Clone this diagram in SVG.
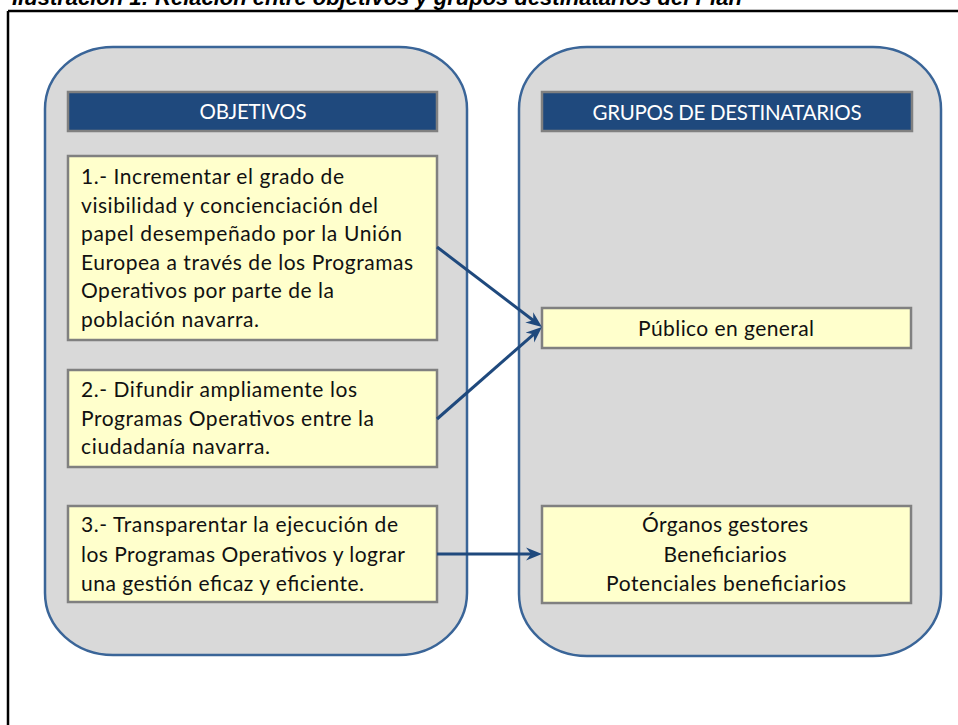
<svg xmlns="http://www.w3.org/2000/svg" width="958" height="725" viewBox="0 0 958 725">
<defs>
<style>
.title{font-family:"Liberation Sans",Arial,sans-serif;font-size:22px;font-weight:bold;font-style:italic;fill:#000}
.container{fill:#D9D9D9;stroke:#3A6598;stroke-width:2.5}
.header{fill:#1F497D;stroke:#808080;stroke-width:2.5}
.box{fill:#FFFFCC;stroke:#808080;stroke-width:2.5}
.ht{font-family:Lato,"Open Sans",sans-serif;font-size:20.5px;fill:#FFFFFF;text-anchor:middle}
.t{font-family:Lato,"Open Sans",sans-serif;font-size:21px;fill:#111111}
.tc{font-family:Lato,"Open Sans",sans-serif;font-size:21px;fill:#111111;text-anchor:middle}
.conn{fill:none;stroke:#1F497D;stroke-width:3}
</style>
<marker id="arrow" markerUnits="userSpaceOnUse" markerWidth="16" markerHeight="14" viewBox="0 0 16 14" refX="11" refY="7" orient="auto">
<path d="M0,0.5 L16,7 L0,13.5 L5,7 Z" fill="#1F497D"/>
</marker>
</defs>
<rect width="958" height="725" fill="#FFFFFF"/>
<text class="title" x="12" y="5">Ilustración 1: Relación entre objetivos y grupos destinatarios del Plan</text>
<path d="M8,11 H958 M8,11 V725" fill="none" stroke="#000" stroke-width="2.5"/>

<g id="objetivos-panel">
<rect class="container" x="45" y="47" width="422" height="608" rx="68" ry="62"/>
</g>
<g id="destinatarios-panel">
<rect class="container" x="519" y="47" width="422" height="609" rx="68" ry="62"/>
</g>

<g id="header-objetivos">
<rect class="header" x="68" y="92" width="369" height="39"/>
<text class="ht" x="253" y="119" textLength="107" lengthAdjust="spacing">OBJETIVOS</text>
</g>
<g id="header-destinatarios">
<rect class="header" x="542" y="92" width="370" height="39"/>
<text class="ht" x="727" y="119.5" textLength="269" lengthAdjust="spacing">GRUPOS DE DESTINATARIOS</text>
</g>

<g id="objetivo-1">
<rect class="box" x="68" y="156" width="369" height="184"/>
<text class="t" x="81" y="184" textLength="263" lengthAdjust="spacing">1.- Incrementar el grado de</text>
<text class="t" x="81" y="212.5" textLength="297" lengthAdjust="spacing">visibilidad y concienciación del</text>
<text class="t" x="81" y="241" textLength="321" lengthAdjust="spacing">papel desempeñado por la Unión</text>
<text class="t" x="81" y="269.5" textLength="332" lengthAdjust="spacing">Europea a través de los Programas</text>
<text class="t" x="81" y="298" textLength="253" lengthAdjust="spacing">Operativos por parte de la</text>
<text class="t" x="81" y="326.5" textLength="178" lengthAdjust="spacing">población navarra.</text>
</g>

<g id="objetivo-2">
<rect class="box" x="68" y="370" width="369" height="97"/>
<text class="t" x="81" y="397" textLength="276" lengthAdjust="spacing">2.- Difundir ampliamente los</text>
<text class="t" x="81" y="425.5" textLength="293" lengthAdjust="spacing">Programas Operativos entre la</text>
<text class="t" x="81" y="454" textLength="189" lengthAdjust="spacing">ciudadanía navarra.</text>
</g>

<g id="objetivo-3">
<rect class="box" x="68" y="506" width="369" height="96"/>
<text class="t" x="81" y="532" textLength="317" lengthAdjust="spacing">3.- Transparentar la ejecución de</text>
<text class="t" x="81" y="561.5" textLength="324" lengthAdjust="spacing">los Programas Operativos y lograr</text>
<text class="t" x="81" y="590.5" textLength="283" lengthAdjust="spacing">una gestión eficaz y eficiente.</text>
</g>

<g id="publico-general">
<rect class="box" x="542" y="308" width="369" height="40"/>
<text class="tc" x="726" y="336" textLength="176" lengthAdjust="spacing">Público en general</text>
</g>

<g id="organos-gestores">
<rect class="box" x="542" y="506" width="369" height="97"/>
<text class="tc" x="725" y="532" textLength="166" lengthAdjust="spacing">Órganos gestores</text>
<text class="tc" x="725" y="561.5" textLength="123" lengthAdjust="spacing">Beneficiarios</text>
<text class="tc" x="726" y="590.5" textLength="240" lengthAdjust="spacing">Potenciales beneficiarios</text>
</g>

<g id="connectors">
<path class="conn" d="M437,247 L538,324" marker-end="url(#arrow)"/>
<path class="conn" d="M437,419 L538.2,330.3" marker-end="url(#arrow)"/>
<path class="conn" d="M437,554 L537,554" marker-end="url(#arrow)"/>
</g>
</svg>
